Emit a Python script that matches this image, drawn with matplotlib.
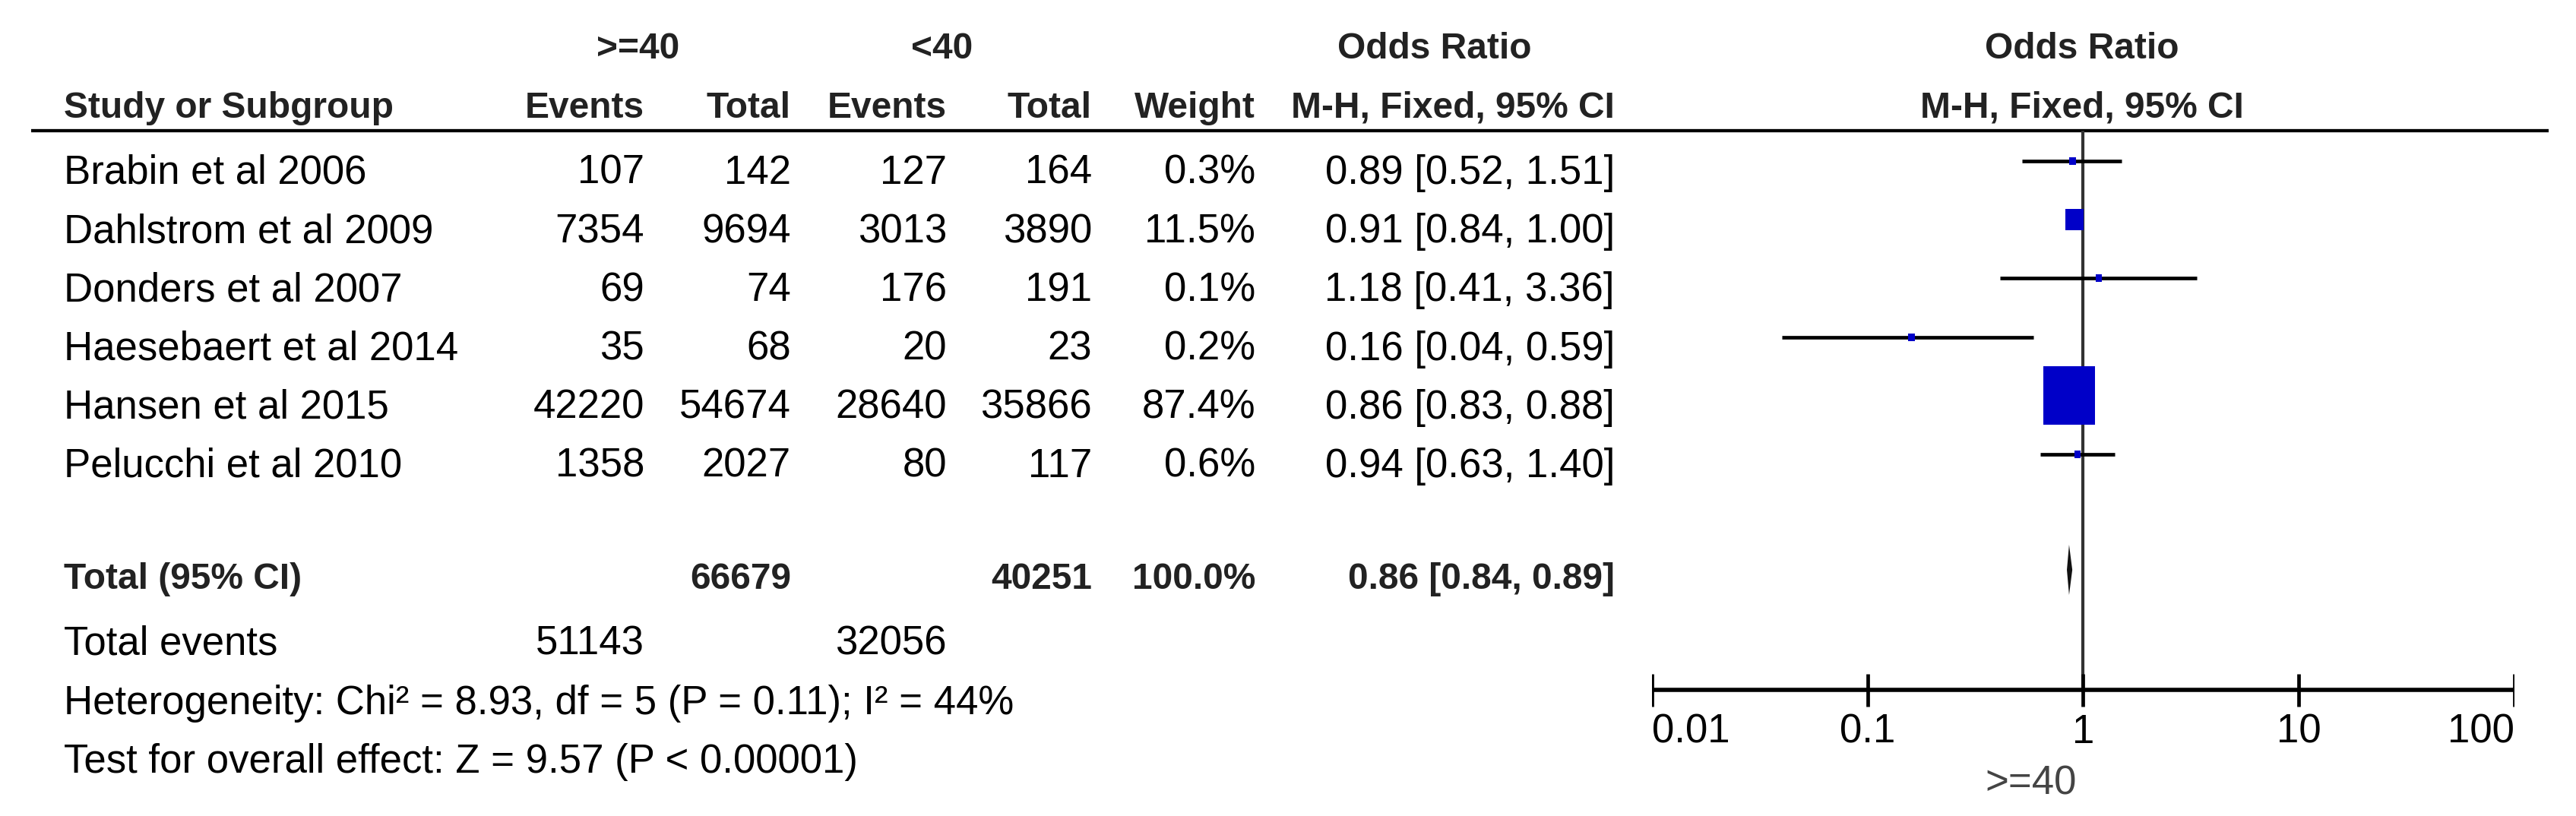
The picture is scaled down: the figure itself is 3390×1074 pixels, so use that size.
import numpy as np
import matplotlib
matplotlib.use("Agg")
import matplotlib.pyplot as plt

plt.rcParams['font.family'] = ['Liberation Sans', 'DejaVu Sans']

# data
studies = ["Brabin et al 2006", "Dahlstrom et al 2009", "Donders et al 2007",
           "Haesebaert et al 2014", "Hansen et al 2015", "Pelucchi et al 2010"]
ev1 = [107, 7354, 69, 35, 42220, 1358]
tot1 = [142, 9694, 74, 68, 54674, 2027]
ev2 = [127, 3013, 176, 20, 28640, 80]
tot2 = [164, 3890, 191, 23, 35866, 117]
weight = [0.3, 11.5, 0.1, 0.2, 87.4, 0.6]
odds = [0.89, 0.91, 1.18, 0.16, 0.86, 0.94]
ci_lo = [0.52, 0.84, 0.41, 0.04, 0.83, 0.63]
ci_hi = [1.51, 1.00, 3.36, 0.59, 0.88, 1.40]

total1, total2 = 66679, 40251
total_weight = 100.0
total_ev1, total_ev2 = 51143, 32056
pooled, pooled_lo, pooled_hi = 0.86, 0.84, 0.89
het_text = "Heterogeneity: Chi² = 8.93, df = 5 (P = 0.11); I² = 44%"
test_text = "Test for overall effect: Z = 9.57 (P < 0.00001)"
ticks = [0.01, 0.1, 1, 10, 100]
tick_labels = ["0.01", "0.1", "1", "10", "100"]

W, H = 3391, 1074
fig = plt.figure(figsize=(W / 100, H / 100), dpi=100)
ax = fig.add_axes([0, 0, 1, 1])
ax.set_xlim(0, W)
ax.set_ylim(H, 0)
ax.axis('off')

fs = 38
fs_b = 34.5
# text baselines (pixels from top)
row_base = [242 + 77.2 * i for i in range(len(studies))]
b_total, b_tev, b_het, b_test = 775, 862, 940, 1017
x_name = 84
x_e1, x_t1, x_e2, x_t2, x_w, x_or = 848, 1041, 1246, 1437, 1652, 2125

def t(x, y, s, ha='right', bold=False, color='black'):
    ax.text(x, y, s, ha=ha, va='baseline', fontsize=fs_b if bold else fs,
            fontweight='bold' if bold else 'normal',
            color='#222222' if bold else color)

# header
t(840, 77, ">=40", 'center', True)
t(1240, 77, "<40", 'center', True)
t(1888, 77, "Odds Ratio", 'center', True)
t(2740, 77, "Odds Ratio", 'center', True)
t(x_name, 155, "Study or Subgroup", 'left', True)
t(x_e1, 155, "Events", bold=True)
t(x_t1, 155, "Total", bold=True)
t(x_e2, 155, "Events", bold=True)
t(x_t2, 155, "Total", bold=True)
t(x_w, 155, "Weight", bold=True)
t(x_or, 155, "M-H, Fixed, 95% CI", bold=True)
t(2740, 155, "M-H, Fixed, 95% CI", 'center', True)
ax.plot([41, 3354], [172, 172], color='black', lw=3.1, solid_capstyle='butt')

for i, y in enumerate(row_base):
    t(x_name, y, studies[i], 'left')
    t(x_e1, y, str(ev1[i]))
    t(x_t1, y, str(tot1[i]))
    t(x_e2, y, str(ev2[i]))
    t(x_t2, y, str(tot2[i]))
    t(x_w, y, f"{weight[i]:.1f}%")
    t(x_or, y, f"{odds[i]:.2f} [{ci_lo[i]:.2f}, {ci_hi[i]:.2f}]")

t(x_name, b_total, "Total (95% CI)", 'left', True)
t(x_t1, b_total, str(total1), bold=True)
t(x_t2, b_total, str(total2), bold=True)
t(x_w, b_total, f"{total_weight:.1f}%", bold=True)
t(x_or, b_total, f"{pooled:.2f} [{pooled_lo:.2f}, {pooled_hi:.2f}]", bold=True)
t(x_name, b_tev, "Total events", 'left')
t(x_e1, b_tev, str(total_ev1))
t(x_e2, b_tev, str(total_ev2))
t(x_name, b_het, het_text, 'left')
t(x_name, b_test, test_text, 'left')

# forest panel on a log scale
fx0, fx1 = 2174, 3309
fa = fig.add_axes([fx0 / W, 0, (fx1 - fx0) / W, 1])
fa.set_xscale('log')
fa.set_xlim(0.01, 100)
fa.set_ylim(H, 0)
fa.axis('off')
fa.patch.set_alpha(0)

y_axis = 908
row_y = [b - 30 for b in row_base]
fa.plot([1, 1], [172, y_axis], color='#333333', lw=3.0, solid_capstyle='butt')
for i, y in enumerate(row_y):
    fa.plot([ci_lo[i], ci_hi[i]], [y, y], color='black', lw=3.4, solid_capstyle='butt')

# weight boxes, a bit taller than wide like the reference
box = [(-0.875, -1), (0.875, -1), (0.875, 1), (-0.875, 1), (-0.875, -1)]
box_h = [max(10, 77 * np.sqrt(w / max(weight))) for w in weight]
fa.scatter(odds, row_y, s=[(h * 0.72) ** 2 for h in box_h], marker=box,
           color='#0000C8', linewidths=0, zorder=3)
y_d, dh = 750, 33
fa.fill([pooled_lo, pooled, pooled_hi, pooled],
        [y_d, y_d - dh, y_d, y_d + dh], color='#111111', lw=0)

fa.plot([ticks[0], ticks[-1]], [y_axis, y_axis], color='black', lw=4.0,
        solid_capstyle='butt')
for k, v in enumerate(ticks):
    fa.plot([v, v], [y_axis - 21, y_axis + 22], color='black', lw=3.4,
            solid_capstyle='butt')
    ha = 'left' if k == 0 else ('right' if k == len(ticks) - 1 else 'center')
    fa.text(v, 978, tick_labels[k], ha=ha, va='baseline', fontsize=fs)
fa.text(0.93, 1045, ">=40", ha='right', va='baseline', fontsize=fs, color='#444444')

fig.savefig("out.png", dpi=100)
